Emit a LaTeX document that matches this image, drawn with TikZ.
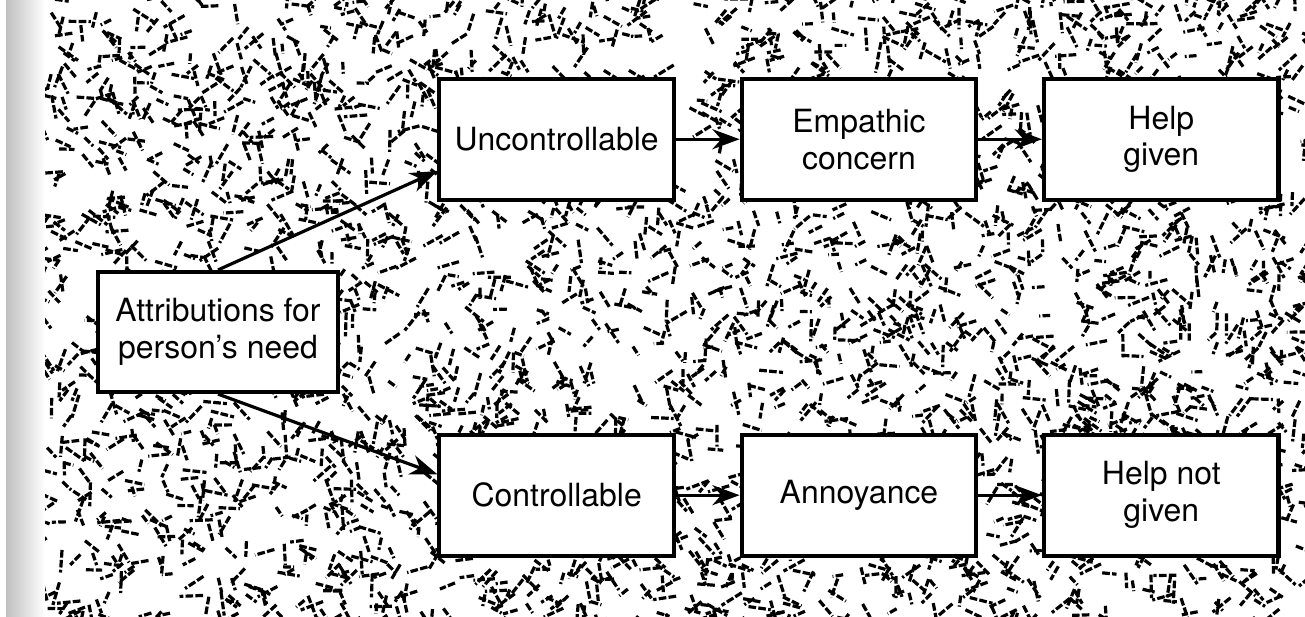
\documentclass[tikz,border=0pt]{standalone}
\usepackage{fontspec}
\setmainfont{TeX Gyre Heros}
\usetikzlibrary{arrows.meta, positioning}

\begin{document}
\begin{tikzpicture}[
  x=0.011cm, y=-0.011cm,
  box/.style={draw, line width=1.3pt, fill=white, minimum width=25.8mm, minimum height=13.3mm, align=center, inner sep=1mm, font=\fontsize{10}{11.5}\selectfont},
  arrow/.style={-{Stealth[length=3mm, width=2.2mm]}, line width=1pt},
  grain/.style={line width=1pt, dash pattern=on 2.4pt off 0.7pt},
]

% --- Background (scanned paper texture)
\useasboundingbox (0,0) rectangle (1305,616);
\fill[left color=black!25, right color=white] (6,0) rectangle (45,616);
\begin{scope}
  \clip (45,0) rectangle (1305,616);
  \pgfmathsetseed{17}
  \foreach \i in {1,...,3000} {
    \pgfmathsetmacro\gx{30+1290*rnd}
    \pgfmathsetmacro\gy{-15+646*rnd}
    \pgfmathsetmacro\ga{180*rnd}
    \pgfmathsetmacro\gl{10+14*rnd}
    \draw[grain] (\gx,\gy) -- ++(\ga:\gl);
  }
\end{scope}

% --- Node placement
\node[box, minimum width=26.4mm, minimum height=13.2mm] (attr) at (218,332) {Attributions for\\person's need};
\node[box, above right=7.5mm and 10.7mm of attr] (uncon) {Uncontrollable};
\node[box, right=7mm of uncon] (empat) {Empathic\\concern};
\node[box, right=7mm of empat] (help) {Help\\given};
\node[box, below=25.4mm of uncon] (contr) {Controllable};
\node[box, right=7mm of contr] (annoy) {Annoyance};
\node[box, right=7mm of annoy] (nohelp) {Help not\\given};

% --- Arrows
\draw[arrow] (attr.north) -- ([yshift=-3.5mm]uncon.west);
\draw[arrow] (attr.south) -- ([yshift=2.3mm]contr.west);

\draw[arrow] (uncon) -- (empat);
\draw[arrow] (empat) -- (help);
\draw[arrow] (contr) -- (annoy);
\draw[arrow] (annoy) -- (nohelp);

\end{tikzpicture}
\end{document}
